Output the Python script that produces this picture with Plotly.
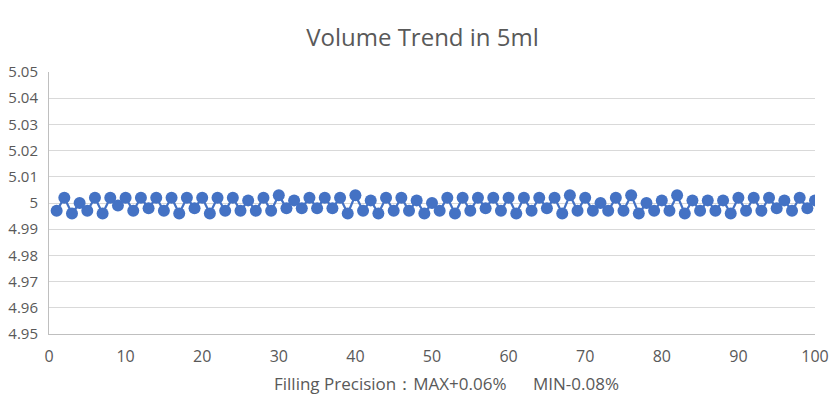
import plotly.graph_objects as go

sample_no = list(range(1, 101))
volume_ml = [
    4.997, 5.002, 4.996, 5.000, 4.997, 5.002, 4.996, 5.002, 4.999, 5.002,
    4.997, 5.002, 4.998, 5.002, 4.997, 5.002, 4.996, 5.002, 4.998, 5.002,
    4.996, 5.002, 4.997, 5.002, 4.997, 5.001, 4.997, 5.002, 4.997, 5.003,
    4.998, 5.001, 4.998, 5.002, 4.998, 5.002, 4.998, 5.002, 4.996, 5.003,
    4.997, 5.001, 4.996, 5.002, 4.997, 5.002, 4.997, 5.001, 4.996, 5.000,
    4.997, 5.002, 4.996, 5.002, 4.997, 5.002, 4.998, 5.002, 4.997, 5.002,
    4.996, 5.002, 4.997, 5.002, 4.998, 5.002, 4.996, 5.003, 4.997, 5.002,
    4.997, 5.000, 4.997, 5.002, 4.997, 5.003, 4.996, 5.000, 4.997, 5.001,
    4.997, 5.003, 4.996, 5.001, 4.997, 5.001, 4.997, 5.001, 4.996, 5.002,
    4.997, 5.002, 4.997, 5.002, 4.998, 5.001, 4.997, 5.002, 4.998, 5.001,
]
y_ticks = [4.95, 4.96, 4.97, 4.98, 4.99, 5.00, 5.01, 5.02, 5.03, 5.04, 5.05]
y_tick_labels = ["4.95", "4.96", "4.97", "4.98", "4.99", "5", "5.01", "5.02", "5.03", "5.04", "5.05"]
x_ticks = [0, 10, 20, 30, 40, 50, 60, 70, 80, 90, 100]

title_text = "Volume Trend in 5ml"
x_title = "Filling Precision：MAX+0.06%&nbsp;&nbsp;&nbsp;&nbsp;&nbsp;&nbsp;MIN-0.08%"

font_family = "Open Sans"
grey = "#595959"

fig = go.Figure(
    go.Scatter(
        x=sample_no, y=volume_ml, mode="lines+markers",
        line=dict(color="#4472C4", width=2.25),
        marker=dict(color="#4472C4", size=12),
        showlegend=False,
    )
)

fig.update_layout(
    width=829, height=390,
    margin=dict(l=41, r=22, t=64, b=64),
    paper_bgcolor="white", plot_bgcolor="white",
    title=dict(text=title_text, x=0.5, xanchor="center", y=0.925, yanchor="middle",
               font=dict(family=font_family, size=24, color=grey)),
    font=dict(family=font_family, color=grey),
    xaxis=dict(
        range=[0, 100], tickvals=x_ticks, showgrid=False, zeroline=False,
        showline=True, linecolor="#BFBFBF", linewidth=1,
        ticks="", tickfont=dict(size=16, color=grey), automargin=False,
        ticklabelstandoff=8,
    ),
    yaxis=dict(
        range=[4.95, 5.05], tickvals=y_ticks, ticktext=y_tick_labels,
        showgrid=True, gridcolor="#D9D9D9", gridwidth=1, zeroline=False,
        showline=True, linecolor="#BFBFBF", linewidth=1, automargin=False,
        ticks="", tickfont=dict(size=15, color=grey), ticklabelstandoff=7,
    ),
    annotations=[dict(
        text=x_title, xref="paper", yref="paper", x=0.5, y=0, xshift=14, yshift=-49,
        xanchor="center", yanchor="middle", showarrow=False,
        font=dict(family=font_family, size=17, color=grey),
    )],
)

fig.write_html("out.html")
